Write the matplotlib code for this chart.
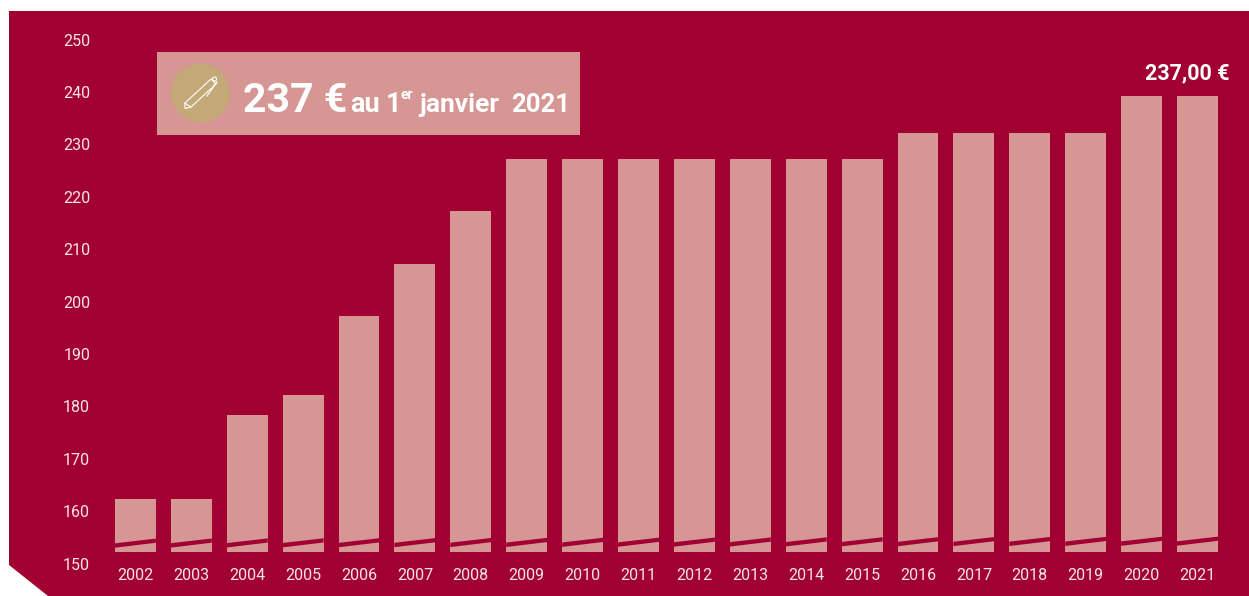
import matplotlib
matplotlib.use('Agg')
import matplotlib.pyplot as plt
from matplotlib.patches import Polygon, Rectangle, Circle
from matplotlib.transforms import ScaledTranslation

years = ['2002', '2003', '2004', '2005', '2006', '2007', '2008', '2009', '2010', '2011',
         '2012', '2013', '2014', '2015', '2016', '2017', '2018', '2019', '2020', '2021']
values = [160, 160, 176, 180, 195, 205, 215, 225, 225, 225,
          225, 225, 225, 225, 230, 230, 230, 230, 237, 237]
yticks = [150, 160, 170, 180, 190, 200, 210, 220, 230, 240, 250]

RED = '#A20033'
PINK = '#D69694'
GOLD = '#C4A877'
LIGHT = '#F7E6E6'
NARROW = ['Roboto', 'DejaVu Sans']

W, H = 1249, 596
fig = plt.figure(figsize=(W / 100, H / 100), dpi=100, facecolor='white')

# fond, encadre et icone, en pixels
bg = fig.add_axes([0, 0, 1, 1], zorder=0)
bg.set_xlim(0, W)
bg.set_ylim(H, 0)
bg.axis('off')
bg.add_patch(Polygon([(9, 11), (W, 11), (W, H), (48, H), (9, 565)], fc=RED, ec='none'))
bg.add_patch(Rectangle((157, 52), 423, 83, fc=PINK, ec='none'))
bg.add_patch(Circle((200.5, 93), 29.5, fc=GOLD, ec='none'))

# stylo
pen = [(185, 103), (211, 79), (216, 84), (191, 107), (185, 108.5)]
bg.add_patch(Polygon(pen, closed=True, fc='none', ec='white', lw=0.8))
bg.plot([185, 187.5, 191], [103, 105, 107], color='white', lw=0.8)
bg.add_patch(Circle((214.5, 79), 2, fc='none', ec='white', lw=0.8))
bg.plot([214, 217, 207], [85, 82, 96], color='white', lw=0.8)

# texte de l'encadre
for x, txt, size in [(243, '237 €', 29.5), (350, 'au', 19.5), (386, '1', 19.5),
                     (419, 'janvier', 19), (511, '2021', 18.5)]:
    bg.text(x, 112, txt, color='white', fontsize=size, fontweight='bold',
            family=NARROW, ha='left', va='baseline')
bg.text(401, 99, 'er', color='white', fontsize=10, fontweight='bold',
        family=NARROW, ha='left', va='baseline')

# barres
ax = fig.add_axes([107.45 / W, (H - 551.7) / H, 1118 / W, 524 / H], zorder=1)
ax.patch.set_alpha(0)
x = list(range(len(years)))
bars = ax.bar(x, values, width=0.733, bottom=0, color=PINK)
ax.set_xlim(-0.5, 19.5)
ax.set_ylim(150, 250)
for s in ax.spines.values():
    s.set_visible(False)

# coupure de l'axe sur chaque barre
for b, i in zip(bars, x):
    x0, x1 = b.get_x(), b.get_x() + b.get_width()
    d = 0.02 * i
    ax.add_patch(Polygon([(x0, 150.76 + d), (x1, 151.7 + d), (x1, 152.5 + d), (x0, 151.6 + d)],
                         fc=RED, ec='none'))

ax.set_xticks(x, years)
ax.set_yticks(yticks)
ax.tick_params(axis='both', length=0, labelcolor=LIGHT, labelsize=11.5)
ax.tick_params(axis='x', pad=11.5)
ax.tick_params(axis='y', pad=12.5)
for t in ax.get_xticklabels() + ax.get_yticklabels():
    t.set_family(NARROW)
# les etiquettes de l'axe y sont decalees vers le bas dans l'original
off = ScaledTranslation(0, -12 / 100, fig.dpi_scale_trans)
for t in ax.get_yticklabels():
    t.set_transform(t.get_transform() + off)

bg.text(1230, 79, '237,00 €', color='white', fontsize=15.5, fontweight='bold',
        family=NARROW, ha='right', va='baseline')

fig.savefig('out.png', dpi=100)
